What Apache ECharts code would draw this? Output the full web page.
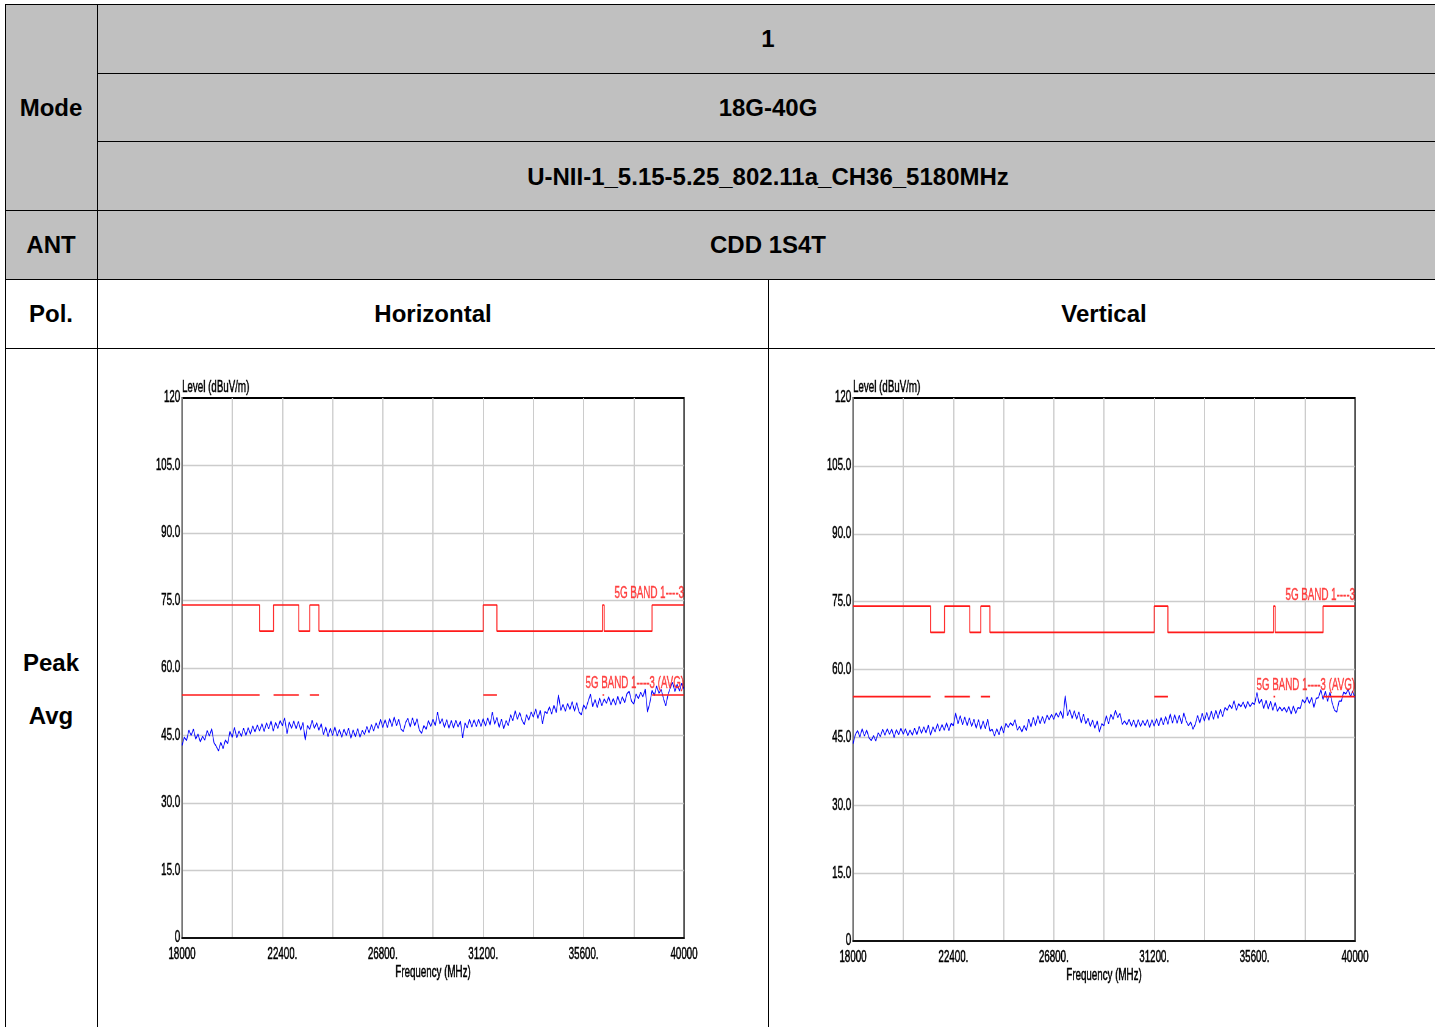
<!DOCTYPE html>
<html><head><meta charset="utf-8">
<script src="https://cdn.jsdelivr.net/npm/echarts/dist/echarts.min.js"></script>
<style>
html,body{margin:0;padding:0;width:1435px;height:1027px;overflow:hidden;background:#fff;}
body{position:relative;font-family:'Liberation Sans',Arial,sans-serif;}
.bg{position:absolute;background:#c0c0c0;}
.h{position:absolute;height:1px;background:#000;}
.v{position:absolute;width:1px;background:#000;}
.t{position:absolute;font-weight:bold;font-size:24px;color:#000;transform:translate(-50%,-50%);white-space:nowrap;line-height:1;}
.chart{position:absolute;transform-origin:0 0;}
</style></head><body>
<div class="bg" style="left:5px;top:4px;width:1430px;height:275px;"></div>
<div class="h" style="left:5px;top:4px;width:1430px;"></div>
<div class="h" style="left:97px;top:73px;width:1338px;"></div>
<div class="h" style="left:97px;top:141px;width:1338px;"></div>
<div class="h" style="left:5px;top:210px;width:1430px;"></div>
<div class="h" style="left:5px;top:279px;width:1430px;"></div>
<div class="h" style="left:5px;top:348px;width:1430px;"></div>
<div class="v" style="left:5px;top:4px;height:1023px;"></div>
<div class="v" style="left:97px;top:4px;height:1023px;"></div>
<div class="v" style="left:768px;top:279px;height:748px;"></div>

<div class="t" style="left:51px;top:108px;">Mode</div>
<div class="t" style="left:768px;top:39px;">1</div>
<div class="t" style="left:768px;top:108px;">18G-40G</div>
<div class="t" style="left:768px;top:177px;">U-NII-1_5.15-5.25_802.11a_CH36_5180MHz</div>
<div class="t" style="left:51px;top:245px;">ANT</div>
<div class="t" style="left:768px;top:245px;">CDD 1S4T</div>
<div class="t" style="left:51px;top:314px;">Pol.</div>
<div class="t" style="left:433px;top:314px;">Horizontal</div>
<div class="t" style="left:1104px;top:314px;">Vertical</div>
<div class="t" style="left:51px;top:663px;">Peak</div>
<div class="t" style="left:51px;top:716px;">Avg</div>

<div id="chartH" class="chart"></div>
<div id="chartV" class="chart"></div>

<script>
// ---- Data ----
const FREQ_START = 18000;   // MHz
const FREQ_STEP = 100;      // MHz between trace samples
const X_MIN = 18000, X_MAX = 40000, X_INTERVAL = 2200;
const Y_MIN = 0, Y_MAX = 120, Y_INTERVAL = 15;

const xTickLabels = ['18000', '22400.', '26800.', '31200.', '35600.', '40000'];
const xLabelValues = [18000, 22400, 26800, 31200, 35600, 40000];

// Horizontal polarisation trace (dBuV/m), 18000..40000 MHz every 100 MHz
const traceH = [
  42.8, 44.6, 43.9, 46.2, 45.0, 46.4, 44.2, 45.3, 43.6, 44.8,
  44.0, 46.1, 44.9, 46.5, 43.4, 42.6, 41.6, 43.5, 42.1, 44.0,
  43.2, 45.9, 44.6, 46.8, 44.5, 46.0, 44.8, 46.6, 45.0, 46.7,
  45.3, 47.1, 45.8, 47.3, 46.0, 47.6, 45.9, 47.8, 46.5, 48.2,
  46.0, 47.9, 46.6, 48.3, 47.2, 48.9, 45.4, 48.0, 46.6, 48.2,
  46.5, 48.1, 46.2, 47.9, 44.0, 47.2, 46.4, 48.4, 46.6, 47.8,
  46.2, 47.6, 45.2, 46.9, 44.8, 46.6, 45.0, 46.9, 44.9, 46.3,
  44.6, 46.4, 45.0, 46.6, 44.4, 46.2, 44.7, 46.5, 44.6, 46.1,
  45.2, 47.0, 45.6, 47.4, 46.0, 47.8, 46.6, 48.6, 46.8, 48.5,
  46.8, 48.8, 47.0, 49.1, 47.2, 48.6, 46.4, 45.9, 47.9, 48.8,
  46.9, 48.9, 47.2, 48.7, 46.2, 45.5, 47.2, 46.4, 48.3, 47.0,
  48.6, 47.2, 50.2, 47.6, 48.7, 46.8, 48.5, 46.6, 48.3, 46.7,
  48.4, 46.9, 48.2, 44.5, 47.8, 46.7, 48.6, 46.9, 48.5, 47.0,
  48.6, 47.0, 48.7, 47.1, 48.9, 47.3, 50.2, 47.5, 49.0, 46.8,
  48.6, 46.5, 48.3, 47.2, 49.6, 48.3, 50.5, 48.6, 50.1, 48.4,
  47.4, 49.6, 48.4, 50.2, 49.1, 50.9, 48.8, 50.6, 47.6, 50.3,
  49.9, 51.4, 49.8, 51.7, 50.1, 54.0, 50.6, 51.9, 50.4, 52.1,
  50.8, 52.5, 50.4, 52.3, 50.2, 49.6, 51.8, 50.9, 52.6, 54.2,
  51.4, 53.0, 51.2, 53.3, 51.6, 53.1, 52.2, 53.6, 51.8, 53.2,
  51.8, 53.7, 52.0, 53.6, 52.3, 54.3, 54.8, 52.6, 52.0, 54.2,
  53.2, 54.6, 53.6, 55.3, 50.2, 52.2, 55.0, 53.9, 56.0, 54.4,
  55.2, 53.2, 51.6, 54.1, 55.6, 56.8, 54.8, 56.4, 54.9, 56.6,
  55.2
];

// Vertical polarisation trace (dBuV/m), 18000..40000 MHz every 100 MHz
const traceV = [
  43.6, 45.6, 46.5, 45.1, 46.9, 45.3, 46.6, 44.9, 44.3, 45.4,
  44.2, 46.0, 45.2, 46.8, 45.5, 46.9, 45.7, 46.8, 45.0, 46.7,
  45.6, 47.0, 45.7, 46.9, 45.4, 46.6, 45.5, 47.0, 45.6, 47.4,
  45.9, 47.3, 46.0, 47.7, 45.5, 47.3, 46.2, 48.0, 46.4, 47.8,
  46.6, 48.2, 46.5, 48.1, 47.6, 50.4, 48.0, 49.8, 47.8, 49.5,
  47.6, 49.3, 47.4, 49.0, 47.0, 48.9, 46.8, 48.6, 46.9, 49.0,
  46.4, 46.8, 45.3, 46.9, 45.6, 47.5, 46.0, 48.1, 47.2, 48.2,
  47.6, 48.9, 46.6, 47.4, 46.2, 47.6, 46.5, 49.0, 47.3, 49.4,
  47.6, 49.8, 48.0, 49.6, 48.1, 49.9, 48.9, 50.1, 49.0, 50.4,
  49.5, 50.8, 49.2, 54.2, 49.8, 51.1, 49.2, 50.9, 49.0, 50.6,
  48.2, 50.1, 48.0, 49.2, 47.4, 48.8, 47.0, 48.6, 46.2, 48.0,
  47.6, 49.8, 48.0, 50.1, 49.0, 51.0, 49.4, 50.3, 47.9, 48.6,
  47.8, 49.0, 47.5, 48.8, 47.2, 48.9, 47.4, 48.7, 47.6, 48.9,
  47.2, 48.9, 47.5, 49.1, 47.6, 49.4, 47.8, 49.6, 47.9, 50.2,
  48.2, 50.0, 48.1, 49.9, 48.0, 50.4, 48.6, 47.6, 48.4, 46.8,
  47.9, 49.8, 48.2, 50.3, 48.6, 50.5, 48.8, 50.8, 49.0, 51.0,
  49.2, 51.2, 49.6, 51.6, 51.0, 52.2, 51.4, 53.1, 51.0, 52.4,
  51.8, 52.8, 51.4, 52.9, 51.8, 52.6, 52.3, 54.9, 52.5, 53.4,
  51.4, 53.2, 51.3, 53.0, 51.0, 52.7, 50.8, 51.7, 50.9, 51.6,
  50.6, 51.8, 50.2, 51.9, 50.3, 51.6, 51.4, 53.3, 52.6, 53.9,
  52.5, 53.8, 51.6, 53.6, 53.8, 55.5, 53.4, 55.2, 53.0, 55.0,
  52.6, 51.0, 50.6, 53.0, 53.0, 55.0, 54.6, 55.6, 54.0, 55.2,
  53.6
];

// Peak limit "5G BAND 1----3": step points [start freq, level] (step at end)
const peakLimitFreq  = [18000, 21400, 22010, 23120, 23600, 24000, 31200, 31800, 36430, 36500, 38600, 40000];
const peakLimitLevel = [74,    68.2,  74,    68.2,  74,    68.2,  74,    68.2,  74,    68.2,  74,    74];

// Average limit "5G BAND 1----3 (AVG)": segments only in restricted bands
const avgLimitSegments = [[18000, 21400], [22010, 23120], [23600, 24000], [31200, 31800], [36430, 36500], [38600, 40000]];
const avgLimitLevel = 54;

const peakLabel = '5G BAND 1----3';
const avgLabel = '5G BAND 1----3 (AVG)';
const yName = 'Level (dBuV/m)';
const xName = 'Frequency (MHz)';

// ---- Layout (the source picture is horizontally compressed) ----
const SX = 0.61;
const FONT = "'Liberation Sans',Arial,sans-serif";
const TXT = { fontFamily: FONT, fontSize: 16, color: '#000', textBorderColor: '#000', textBorderWidth: 0.5 };

function traceSeriesData(trace) {
  return trace.map((v, i) => [FREQ_START + i * FREQ_STEP, v]);
}
function peakData() {
  return peakLimitFreq.map((f, i) => [f, peakLimitLevel[i]]);
}
function avgData() {
  const out = [];
  avgLimitSegments.forEach((seg, i) => {
    if (i > 0) out.push([seg[0] - 1, '-']);
    out.push([seg[0], avgLimitLevel]);
    out.push([seg[1], avgLimitLevel]);
  });
  return out;
}

function makeOption(trace, gridHeight) {
  const red = '#ff1a1a';
  const redTxt = { color: red, fontFamily: FONT, fontSize: 16, textBorderColor: red, textBorderWidth: 0.4 };
  return {
    animation: false,
    textStyle: { fontFamily: FONT },
    grid: { left: 84 / SX, top: 49, width: 502 / SX, height: gridHeight, show: true,
            borderColor: '#000', borderWidth: 2, backgroundColor: '#fff' },
    xAxis: {
      type: 'value', min: X_MIN, max: X_MAX, interval: X_INTERVAL,
      name: xName, nameLocation: 'middle', nameGap: 27, nameMoveOverlap: false,
      nameTextStyle: Object.assign({}, TXT),
      axisLine: { show: true, lineStyle: { color: '#111', width: 2 } },
      axisTick: { show: false },
      axisLabel: Object.assign({
        margin: 9,
        formatter: function (v) {
          const k = xLabelValues.indexOf(v);
          return k >= 0 ? xTickLabels[k] : '';
        }
      }, TXT),
      splitLine: { show: true, showMinLine: false, showMaxLine: false,
                   lineStyle: { color: '#cccccc', width: 2 } }
    },
    yAxis: {
      type: 'value', min: Y_MIN, max: Y_MAX, interval: Y_INTERVAL,
      name: yName, nameLocation: 'end', nameGap: 10, nameMoveOverlap: false,
      nameTextStyle: Object.assign({ align: 'left', verticalAlign: 'middle' }, TXT),
      axisLine: { show: true, lineStyle: { color: '#777', width: 2 } },
      axisTick: { show: false },
      axisLabel: Object.assign({
        margin: 3, padding: [2, 0, 0, 0],
        formatter: function (v) { return (v === Y_MAX || v === Y_MIN) ? String(v) : v.toFixed(1); }
      }, TXT),
      splitLine: { show: true, showMinLine: false, showMaxLine: false,
                   lineStyle: { color: '#cccccc', width: 1.3 } }
    },
    series: [
      { type: 'line', data: traceSeriesData(trace), showSymbol: false, symbol: 'none',
        lineStyle: { color: '#0000ff', width: 1.3 }, z: 2 },
      { type: 'line', data: peakData(), step: 'end', showSymbol: false, symbol: 'none',
        lineStyle: { color: red, width: 1.6 }, z: 3 },
      { type: 'line', data: avgData(), showSymbol: false, symbol: 'none', connectNulls: false,
        lineStyle: { color: red, width: 1.6 }, z: 3 },
      { type: 'scatter', symbolSize: 0.1, itemStyle: { color: 'rgba(0,0,0,0)' }, z: 4,
        data: [
          { value: [X_MAX, peakLimitLevel[peakLimitLevel.length - 1]],
            label: Object.assign({ show: true, formatter: peakLabel, position: 'top', align: 'right', distance: 3 }, redTxt) },
          { value: [X_MAX, avgLimitLevel],
            label: Object.assign({ show: true, formatter: avgLabel, position: 'top', align: 'right', distance: 3 }, redTxt) }
        ] }
    ]
  };
}

function place(id, left, top, width, height) {
  const el = document.getElementById(id);
  el.style.left = left + 'px';
  el.style.top = top + 'px';
  el.style.width = (width / SX) + 'px';
  el.style.height = height + 'px';
  el.style.transform = 'scaleX(' + SX + ')';
  return el;
}

const cH = echarts.init(place('chartH', 98, 349, 670, 678), null, { renderer: 'canvas' });
cH.setOption(makeOption(traceH, 540));
const cV = echarts.init(place('chartV', 769, 349, 666, 678), null, { renderer: 'canvas' });
cV.setOption(makeOption(traceV, 543));
</script>
</body></html>
